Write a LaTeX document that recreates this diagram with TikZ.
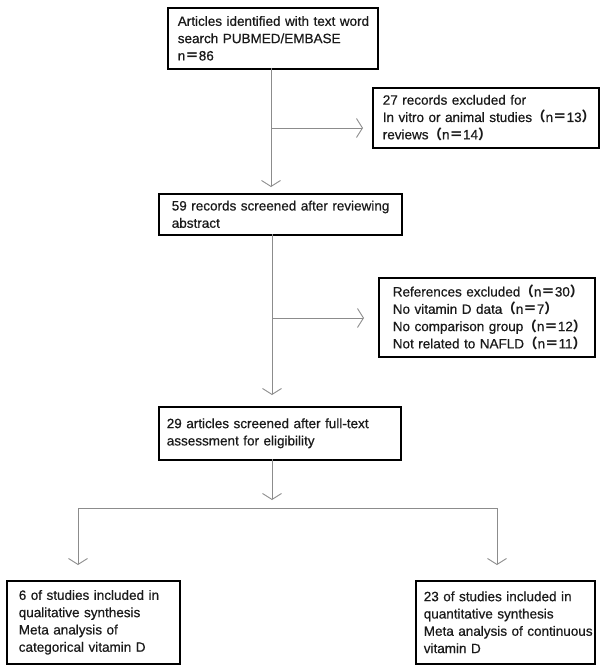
\documentclass[tikz,border=0pt]{standalone}
\usepackage{fontspec}
\setmainfont{Liberation Sans}[BoldFont={Liberation Sans},BoldFeatures={FakeBold=0.6}]
\newfontfamily\cjkfont{Noto Sans CJK JP}
\newcommand{\flp}{{\cjkfont （}}
\newcommand{\frp}{{\cjkfont ）}}
\newcommand{\feq}{{\cjkfont ＝}}
\usetikzlibrary{arrows.meta,calc}
\definecolor{conncol}{HTML}{8C8C8C}
\definecolor{txtcol}{HTML}{1A1A1A}
\begin{document}
\begin{tikzpicture}[x=1pt,y=-1pt,
  box/.style={draw=black, line width=1.6pt, anchor=north west, align=left,
    text=txtcol, font=\fontsize{13.5}{17.3}\selectfont\bfseries, inner ysep=0pt},
  conn/.style={draw=conncol, line width=0.9pt},
  arr/.style={conn, -{Straight Barb[length=6pt,width=19pt,line width=0.9pt]}}]
\useasboundingbox (0,0) rectangle (600,669);
% boxes: width W, height H, inset s -> text width W-2s
\node[box, minimum height=61pt, inner xsep=10pt, text width=190pt] (b1) at (167,7)
  {\mbox{Articles identified with text word}\\\mbox{search PUBMED/EMBASE}\\\mbox{n\feq 86}};
\node[box, minimum height=60pt, inner xsep=10pt, text width=206pt] (b2) at (372,87)
  {\mbox{27 records excluded for}\\\mbox{In vitro or animal studies\flp n\feq 13\frp}\\\mbox{reviews\flp n\feq 14\frp}};
\node[box, minimum height=41pt, inner xsep=13pt, text width=217pt] (b3) at (158,193)
  {\mbox{59 records screened after reviewing}\\\mbox{abstract}};
\node[box, minimum height=79pt, inner xsep=14pt, text width=188pt] (b4) at (378,277)
  {\mbox{References excluded\flp n\feq 30\frp}\\\mbox{No vitamin D data\flp n\feq 7\frp}\\\mbox{No comparison group\flp n\feq 12\frp}\\\mbox{Not related to NAFLD\flp n\feq 11\frp}};
\node[box, minimum height=53pt, inner xsep=8pt, text width=226pt] (b5) at (158,406)
  {\mbox{29 articles screened after full-text}\\\mbox{assessment for eligibility}};
\node[box, minimum height=83pt, inner xsep=12pt, text width=149pt] (b6) at (6,580)
  {\mbox{6 of studies included in}\\\mbox{qualitative synthesis}\\\mbox{Meta analysis of}\\\mbox{categorical vitamin D}};
\node[box, minimum height=83pt, inner xsep=8pt, text width=163pt] (b7) at (415,580)
  {\mbox{23 of studies included in}\\\mbox{quantitative synthesis}\\\mbox{Meta analysis of continuous}\\\mbox{vitamin D}};
% connector coordinates
\coordinate (c1) at (271,68);
\coordinate (j1) at (271,128);
\coordinate (c3) at (272,234);
\coordinate (j2) at (272,318);
\coordinate (c5) at (272,459);
\coordinate (jl) at (78,508);
\coordinate (jr) at (497,508);
% connectors
\draw[arr] (c1) -- ($(c1 |- b3.north)+(0,-6)$);
\draw[arr] (j1) -- ($(b2.west |- j1)+(-9,0)$);
\draw[arr] (c3) -- ($(c3 |- b5.north)+(0,-11)$);
\draw[arr] (j2) -- ($(b4.west |- j2)+(-14,0)$);
\draw[arr] (c5) -- ($(c5 |- jl)+(0,-8)$);
\draw[conn] (jl) -- (jr);
\draw[arr] (jl) -- ($(jl |- b6.north)+(0,-15)$);
\draw[arr] (jr) -- ($(jr |- b7.north)+(0,-15)$);
\end{tikzpicture}
\end{document}
